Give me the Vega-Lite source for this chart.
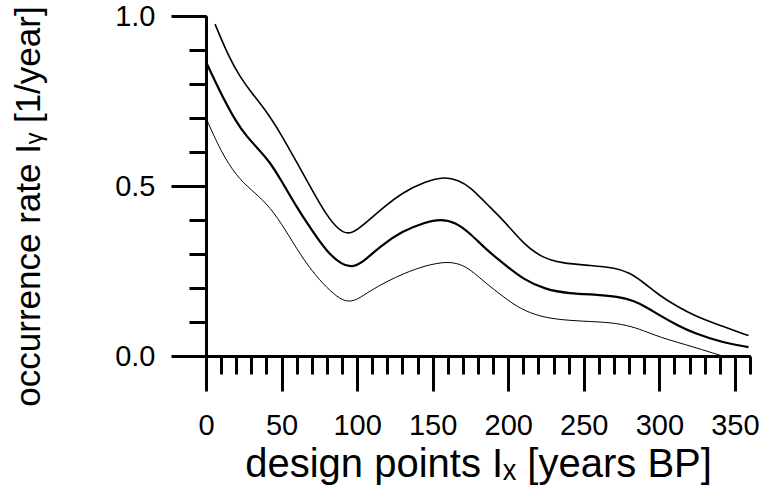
{
  "$schema": "https://vega.github.io/schema/vega-lite/v6.json",
  "width": 544,
  "height": 340,
  "autosize": {"type": "none"},
  "padding": {"left": 206, "top": 16, "right": 11, "bottom": 139},
  "background": "white",
  "config": {
    "view": {"stroke": null},
    "font": "Liberation Sans",
    "axis": {"grid": false, "domainColor": "black", "tickColor": "black", "labelColor": "black", "titleColor": "black", "domainWidth": 3, "tickWidth": 3, "labelFont": "Liberation Sans", "titleFont": "Liberation Sans", "titleFontWeight": "normal", "labelFontSize": 29}
  },
  "data": {"values": [
    {"x": 0, "y": 0.865, "s": "mean"}, {"x": 10, "y": 0.77, "s": "mean"}, {"x": 20, "y": 0.688, "s": "mean"}, {"x": 27, "y": 0.645, "s": "mean"}, {"x": 35, "y": 0.607, "s": "mean"}, {"x": 42, "y": 0.572, "s": "mean"}, {"x": 50, "y": 0.515, "s": "mean"}, {"x": 60, "y": 0.438, "s": "mean"}, {"x": 70, "y": 0.37, "s": "mean"}, {"x": 80, "y": 0.306, "s": "mean"}, {"x": 90, "y": 0.268, "s": "mean"}, {"x": 97, "y": 0.26, "s": "mean"}, {"x": 105, "y": 0.28, "s": "mean"}, {"x": 115, "y": 0.322, "s": "mean"}, {"x": 130, "y": 0.368, "s": "mean"}, {"x": 145, "y": 0.393, "s": "mean"}, {"x": 155, "y": 0.403, "s": "mean"}, {"x": 165, "y": 0.394, "s": "mean"}, {"x": 175, "y": 0.36, "s": "mean"}, {"x": 185, "y": 0.315, "s": "mean"}, {"x": 197, "y": 0.271, "s": "mean"}, {"x": 210, "y": 0.225, "s": "mean"}, {"x": 225, "y": 0.195, "s": "mean"}, {"x": 240, "y": 0.184, "s": "mean"}, {"x": 260, "y": 0.18, "s": "mean"}, {"x": 272, "y": 0.175, "s": "mean"}, {"x": 283, "y": 0.163, "s": "mean"}, {"x": 292, "y": 0.142, "s": "mean"}, {"x": 300, "y": 0.12, "s": "mean"}, {"x": 312, "y": 0.09, "s": "mean"}, {"x": 323, "y": 0.067, "s": "mean"}, {"x": 340, "y": 0.042, "s": "mean"}, {"x": 359, "y": 0.026, "s": "mean"},
    {"x": 6, "y": 0.976, "s": "upper"}, {"x": 15, "y": 0.88, "s": "upper"}, {"x": 22.5, "y": 0.821, "s": "upper"}, {"x": 30, "y": 0.775, "s": "upper"}, {"x": 40, "y": 0.72, "s": "upper"}, {"x": 50, "y": 0.65, "s": "upper"}, {"x": 60, "y": 0.57, "s": "upper"}, {"x": 70, "y": 0.49, "s": "upper"}, {"x": 80, "y": 0.412, "s": "upper"}, {"x": 88, "y": 0.37, "s": "upper"}, {"x": 94, "y": 0.358, "s": "upper"}, {"x": 100, "y": 0.37, "s": "upper"}, {"x": 108, "y": 0.4, "s": "upper"}, {"x": 117, "y": 0.435, "s": "upper"}, {"x": 130, "y": 0.481, "s": "upper"}, {"x": 145, "y": 0.513, "s": "upper"}, {"x": 158, "y": 0.528, "s": "upper"}, {"x": 167, "y": 0.517, "s": "upper"}, {"x": 175, "y": 0.497, "s": "upper"}, {"x": 185, "y": 0.45, "s": "upper"}, {"x": 197, "y": 0.399, "s": "upper"}, {"x": 210, "y": 0.33, "s": "upper"}, {"x": 222, "y": 0.29, "s": "upper"}, {"x": 235, "y": 0.273, "s": "upper"}, {"x": 255, "y": 0.266, "s": "upper"}, {"x": 270, "y": 0.26, "s": "upper"}, {"x": 280, "y": 0.246, "s": "upper"}, {"x": 290, "y": 0.215, "s": "upper"}, {"x": 300, "y": 0.178, "s": "upper"}, {"x": 312, "y": 0.145, "s": "upper"}, {"x": 323, "y": 0.119, "s": "upper"}, {"x": 340, "y": 0.09, "s": "upper"}, {"x": 359, "y": 0.06, "s": "upper"},
    {"x": 0, "y": 0.7, "s": "lower"}, {"x": 10, "y": 0.6, "s": "lower"}, {"x": 20, "y": 0.53, "s": "lower"}, {"x": 30, "y": 0.488, "s": "lower"}, {"x": 40, "y": 0.45, "s": "lower"}, {"x": 50, "y": 0.39, "s": "lower"}, {"x": 60, "y": 0.315, "s": "lower"}, {"x": 70, "y": 0.25, "s": "lower"}, {"x": 80, "y": 0.2, "s": "lower"}, {"x": 89, "y": 0.166, "s": "lower"}, {"x": 95, "y": 0.159, "s": "lower"}, {"x": 101, "y": 0.168, "s": "lower"}, {"x": 108, "y": 0.19, "s": "lower"}, {"x": 120, "y": 0.22, "s": "lower"}, {"x": 131, "y": 0.243, "s": "lower"}, {"x": 145, "y": 0.266, "s": "lower"}, {"x": 159, "y": 0.278, "s": "lower"}, {"x": 168, "y": 0.271, "s": "lower"}, {"x": 175, "y": 0.254, "s": "lower"}, {"x": 185, "y": 0.215, "s": "lower"}, {"x": 197, "y": 0.173, "s": "lower"}, {"x": 207, "y": 0.142, "s": "lower"}, {"x": 217, "y": 0.122, "s": "lower"}, {"x": 230, "y": 0.108, "s": "lower"}, {"x": 250, "y": 0.102, "s": "lower"}, {"x": 268, "y": 0.099, "s": "lower"}, {"x": 282, "y": 0.087, "s": "lower"}, {"x": 292, "y": 0.07, "s": "lower"}, {"x": 301, "y": 0.055, "s": "lower"}, {"x": 312, "y": 0.04, "s": "lower"}, {"x": 323, "y": 0.026, "s": "lower"}, {"x": 333, "y": 0.012, "s": "lower"}, {"x": 342, "y": 0.0, "s": "lower"}
  ]},
  "layer": [
    {
      "mark": {"type": "line", "interpolate": "basis", "color": "black"},
      "encoding": {
        "x": {"field": "x", "type": "quantitative", "scale": {"domain": [0, 360], "nice": false},
          "axis": {"orient": "bottom", "values": [0, 50, 100, 150, 200, 250, 300, 350], "tickSize": 35, "labelPadding": 20, "title": "design points Iₓ [years BP]", "titleFontSize": 40, "titleY": 88, "titleBaseline": "top", "labelFlush": false}},
        "y": {"field": "y", "type": "quantitative", "scale": {"domain": [0, 1], "nice": false},
          "axis": {"orient": "left", "values": [0, 0.5, 1], "format": ".1f", "tickSize": 35, "labelPadding": 16, "title": "occurrence rate Iᵧ [1/year]", "titleFontSize": 35, "titleX": -160, "titleY": 190, "titleAngle": -90, "titleBaseline": "bottom", "titleAlign": "center"}},
        "detail": {"field": "s"},
        "strokeWidth": {"field": "s", "type": "nominal", "scale": {"domain": ["mean", "upper", "lower"], "range": [2.2, 1, 1]}, "legend": null}
      }
    },
    {
      "mark": {"type": "line", "interpolate": "basis", "color": "black", "opacity": 0},
      "encoding": {
        "x": {"field": "x", "type": "quantitative",
          "axis": {"orient": "bottom", "values": [0, 10, 20, 30, 40, 50, 60, 70, 80, 90, 100, 110, 120, 130, 140, 150, 160, 170, 180, 190, 200, 210, 220, 230, 240, 250, 260, 270, 280, 290, 300, 310, 320, 330, 340, 350, 360], "tickSize": 18, "labels": false, "title": null}},
        "y": {"field": "y", "type": "quantitative",
          "axis": {"orient": "left", "values": [0, 0.1, 0.2, 0.3, 0.4, 0.5, 0.6, 0.7, 0.8, 0.9, 1], "tickSize": 17, "labels": false, "title": null}},
        "detail": {"field": "s"}
      }
    }
  ],
  "resolve": {"axis": {"x": "independent", "y": "independent"}}
}
